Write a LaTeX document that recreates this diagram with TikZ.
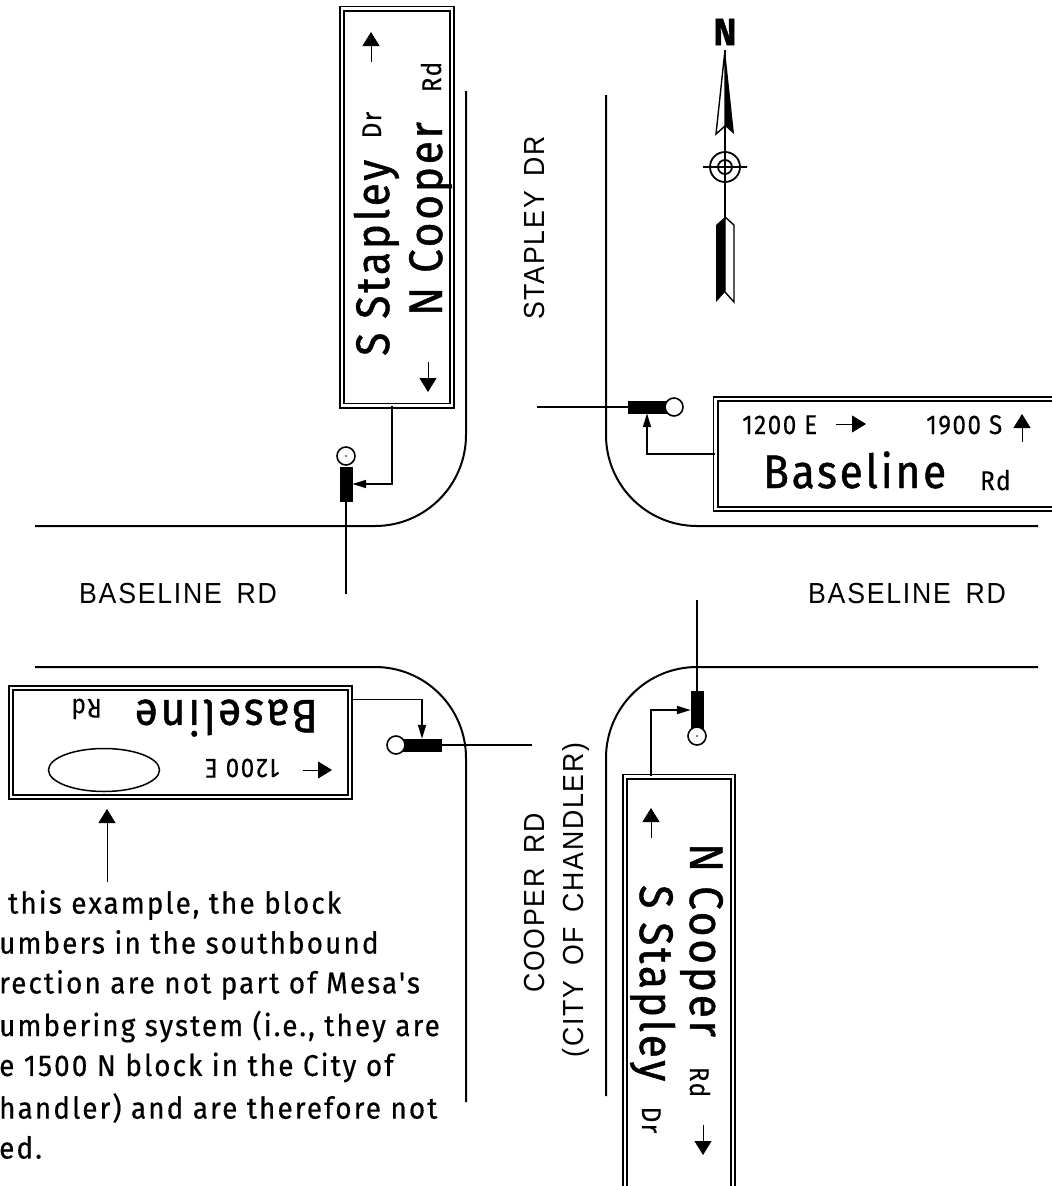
\documentclass[tikz,border=0pt]{standalone}
\usepackage{fontspec}
\usepackage{tikz}
\usetikzlibrary{arrows.meta,shapes.geometric}
\newfontfamily\signfont[FakeStretch=0.9,LetterSpace=6,FakeBold=1]{Fira Sans}
\newfontfamily\smallfont[FakeStretch=0.9,LetterSpace=5.5,FakeBold=0.3]{Fira Sans}
\newfontfamily\notefont[FakeStretch=0.93,LetterSpace=7,FakeBold=0.5]{Fira Sans}
\newfontfamily\roadfont[FakeStretch=0.92,LetterSpace=6,WordSpace=1.6]{Liberation Sans}
\tikzset{
  roadline/.style={line width=2pt, rounded corners=91pt},
  signbox/.style={rectangle, draw, double, line width=1.8pt, double distance=2.4pt, inner sep=0pt},
  armbar/.style={rectangle, fill=black, draw=black, inner sep=0pt},
  lamp/.style={circle, draw, fill=white, line width=1.6pt, minimum size=18pt, inner sep=0pt},
  feed/.style={line width=1.8pt, -{Triangle[length=14pt,width=8pt]}},
  mast/.style={line width=1.8pt},
  signarrow/.style={line width=1pt, -{Triangle[length=14pt,width=17pt]}},
  bigtext/.style={inner sep=0pt, font=\signfont\fontsize{47}{47}\selectfont},
  midtext/.style={inner sep=0pt, font=\smallfont\fontsize{27}{27}\selectfont},
  roadtext/.style={inner sep=0pt, font=\roadfont\fontsize{29}{29}\selectfont},
}
\begin{document}
\begin{tikzpicture}[x=1pt,y=-1pt]
\useasboundingbox (0,0) rectangle (1052,1186);
% kerbs
\draw[roadline] (466,91) -- (466,526) -- (35,526);
\draw[roadline] (606,95) -- (606,526) -- (1038,526);
\draw[roadline] (35,667) -- (466,667) -- (466,1102);
\draw[roadline] (606,1096) -- (606,667) -- (1038,667);
% road names
\node[roadtext] (roadW) at (178,594) {BASELINE RD};
\node[roadtext] (roadE) at (907,594) {BASELINE RD};
\node[roadtext, rotate=90] (roadN) at (535,228) {STAPLEY DR};
\node[roadtext, rotate=90] (roadS) at (535,903) {COOPER RD};
\node[roadtext, rotate=90] (roadSb) at (576,900) {(CITY OF CHANDLER)};
% signs
\node[signbox, minimum width=110pt, minimum height=397pt] (signNW) at (397,207) {};
\node[signbox, minimum width=355pt, minimum height=110pt] (signNE) at (893,454) {};
\node[signbox, minimum width=339pt, minimum height=109pt] (signSW) at (180.500,742.500) {};
\node[signbox, minimum width=108pt, minimum height=413pt] (signSE) at (679,983) {};
% signal arms
\node[armbar, minimum width=12pt, minimum height=34pt] (poleNW) at (346,484) {};
\node[lamp] (lampNW) at (346,456) {};
\coordinate (footNW) at (346,594);
\draw[mast] (poleNW) -- (footNW);
\fill (lampNW) circle (0.8pt);
\draw[feed] ([xshift=-5pt]signNW.south) |- (poleNW.east);
\node[armbar, minimum width=38pt, minimum height=12pt] (poleNE) at (647,407) {};
\node[lamp] (lampNE) at (674,407) {};
\coordinate (footNE) at (537,407);
\draw[mast] (poleNE) -- (footNE);
\draw[feed] (signNE.west) -| (poleNE.south);
\node[armbar, minimum width=38pt, minimum height=12pt] (poleSW) at (422,745) {};
\node[lamp] (lampSW) at (396,745) {};
\coordinate (footSW) at (532,745);
\draw[mast] (poleSW) -- (footSW);
\draw[feed] ([yshift=43pt]signSW.east) -| (poleSW.north);
\node[armbar, minimum width=12pt, minimum height=37pt] (poleSE) at (697,710) {};
\node[lamp] (lampSE) at (697,736) {};
\coordinate (footSE) at (697,600);
\draw[mast] (poleSE) -- (footSE);
\fill (lampSE) circle (0.8pt);
\draw[feed] ([xshift=-28pt]signSE.north) |- (poleSE.west);
% north sign text
\node[bigtext, rotate=90, anchor=base west] (stapleyNW) at (389,356) {S Stapley};
\node[midtext, rotate=90, anchor=base] (drNW) at (381,125) {Dr};
\node[bigtext, rotate=90, anchor=base west] (cooperNW) at (442,316) {N Cooper};
\node[midtext, rotate=90, anchor=base] (rdNW) at (441,77) {Rd};
\coordinate (arrNWa) at (371,62);
\coordinate (arrNWb) at (371,32);
\draw[signarrow] (arrNWa) -- (arrNWb);
\coordinate (arrNWc) at (428,362);
\coordinate (arrNWd) at (428,392);
\draw[signarrow] (arrNWc) -- (arrNWd);
% east sign text
\node[midtext, anchor=base west] (blockE) at (742,434) {1200 E};
\coordinate (arrNEa) at (836,424);
\coordinate (arrNEb) at (866,424);
\draw[signarrow] (arrNEa) -- (arrNEb);
\node[midtext, anchor=base west] (blockS) at (926,434) {1900 S};
\coordinate (arrNEc) at (1022,442);
\coordinate (arrNEd) at (1022,414);
\draw[signarrow] (arrNEc) -- (arrNEd);
\node[bigtext, anchor=base west] (baseNE) at (763,488) {Baseline};
\node[midtext, anchor=base west] (rdNE) at (980,490) {Rd};
% west sign text
\node[bigtext, rotate=180, anchor=base west] (baseSW) at (318,700) {Baseline};
\node[midtext, rotate=180, anchor=base west] (rdSW) at (102,699) {Rd};
\node[midtext, rotate=180, anchor=base west] (blockW) at (280,759) {1200 E};
\node[ellipse, draw, line width=1.5pt, minimum width=111pt, minimum height=43pt, inner sep=0pt] (plateSW) at (104,770) {};
\coordinate (arrSWa) at (303,770);
\coordinate (arrSWb) at (332,770);
\draw[signarrow] (arrSWa) -- (arrSWb);
% south sign text
\node[bigtext, rotate=-90, anchor=base west] (cooperSE) at (690,843) {N Cooper};
\node[midtext, rotate=-90, anchor=base] (rdSE) at (690,1082) {Rd};
\node[bigtext, rotate=-90, anchor=base west] (stapleySE) at (640,885) {S Stapley};
\node[midtext, rotate=-90, anchor=base] (drSE) at (642,1120) {Dr};
\coordinate (arrSEa) at (651,838);
\coordinate (arrSEb) at (651,808);
\draw[signarrow] (arrSEa) -- (arrSEb);
\coordinate (arrSEc) at (703,1125);
\coordinate (arrSEd) at (703,1155);
\draw[signarrow] (arrSEc) -- (arrSEd);
% note
\node[anchor=north west, align=left, inner sep=0pt, font=\notefont\fontsize{30}{30}\selectfont] (noteSW) at (-1,890) {\hspace*{9pt}this example, the block\\[9.900pt]umbers in the southbound\\[9.900pt]rection are not part of Mesa's\\[9.900pt]umbering system (i.e., they are\\[9.900pt]e 1500 N block in the City of\\[9.900pt]handler) and are therefore not\\[9.900pt]ed.};
\coordinate (noteTip) at (107,882);
\coordinate (plateTip) at (107,809);
\draw[signarrow] (noteTip) -- (plateTip);
% north point
\node[inner sep=0pt, font=\signfont\bfseries\fontsize{38}{38}\selectfont] (northN) at (725,32) {N};
\coordinate (needleTip) at (725,50);
\coordinate (tailTop) at (725,217);
\coordinate (hub) at (725,167);
\draw[line width=1.8pt] (needleTip) -- (tailTop);
\draw[line width=1.4pt, fill=white] (needleTip) -- (716,134) -- (725,126) -- cycle;
\fill (needleTip) -- (734,134) -- (725,126) -- cycle;
\draw[line width=1.4pt, fill=white] (tailTop) -- (734,225) -- (734,302) -- (725,292) -- cycle;
\fill (tailTop) -- (716,225) -- (716,302) -- (725,292) -- cycle;
\draw[line width=1.8pt] (hub) circle (15pt) (hub) circle (7pt) (703,167) -- (747,167);
\end{tikzpicture}
\end{document}
